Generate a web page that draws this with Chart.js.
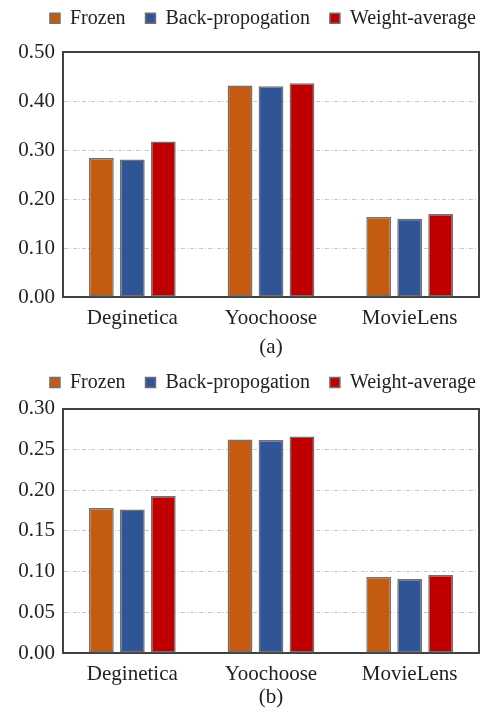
<!DOCTYPE html>
<html><head><meta charset="utf-8">
<script src="https://cdn.jsdelivr.net/npm/chart.js@4.4.0/dist/chart.umd.min.js"></script>
<style>
html,body{margin:0;padding:0;background:#fff;overflow:hidden;width:490px;height:712px}
.w{position:absolute;left:0;width:490px}
</style></head><body>
<div class="w" style="top:0;height:372px"><canvas id="ca"></canvas></div>
<div class="w" style="top:356px;height:356px"><canvas id="cb"></canvas></div>
<script>
const categories = ['Deginetica', 'Yoochoose', 'MovieLens'];
const seriesNames = ['Frozen', 'Back-propogation', 'Weight-average'];
const frozenA = [0.284, 0.432, 0.1635];
const backpropA = [0.281, 0.4305, 0.160];
const weightAvgA = [0.3175, 0.437, 0.1696];
const frozenB = [0.178, 0.262, 0.0932];
const backpropB = [0.176, 0.2615, 0.0907];
const weightAvgB = [0.1925, 0.2657, 0.0956];
const yTicksA = [0.00, 0.10, 0.20, 0.30, 0.40, 0.50];
const yTicksB = [0.00, 0.05, 0.10, 0.15, 0.20, 0.25, 0.30];
const panelLabels = ['(a)', '(b)'];

const FONT = "'Liberation Serif','Times New Roman',serif";
const COLORS = ['#C55A11', '#2F5597', '#C00000'];
const BORDER = '#404040';

function makeChart(id, series, ticks, panel, L) {
  const step = ticks[1] - ticks[0];
  return new Chart(document.getElementById(id), {
    type: 'bar',
    data: {
      labels: categories,
      datasets: series.map((vals, i) => ({
        label: seriesNames[i],
        data: vals,
        backgroundColor: COLORS[i],
        borderColor: '#707070',
        borderWidth: 1.5,
        borderSkipped: false,
        categoryPercentage: 0.67,
        barPercentage: 0.8
      }))
    },
    options: {
      responsive: true,
      maintainAspectRatio: false,
      animation: false,
      layout: { padding: { top: L.top, left: 0, right: -6, bottom: 0 } },
      plugins: {
        tooltip: { enabled: false },
        legend: {
          position: 'top',
          align: 'end',
          labels: {
            boxWidth: 10, boxHeight: 10, padding: 20,
            color: '#222',
            font: { family: FONT, size: 20 }
          }
        }
      },
      scales: {
        x: {
          position: 'bottom',
          grid: { display: false },
          border: { display: true, color: BORDER, width: 2 },
          ticks: { color: '#222', padding: 1, font: { family: FONT, size: 21 } },
          title: { display: true, text: panel, color: '#222',
                   font: { family: FONT, size: 21 }, padding: { top: 0, bottom: L.titleBottom } },
          afterFit: s => { s.height = L.xHeight; }
        },
        xTop: {
          type: 'category',
          position: 'top',
          grid: { display: false },
          ticks: { display: false },
          border: { display: true, color: BORDER, width: 2 },
          afterFit: s => { s.height = L.topGap; }
        },
        y: {
          position: 'left',
          min: ticks[0],
          max: ticks[ticks.length - 1],
          ticks: {
            stepSize: step,
            color: '#222',
            padding: 8,
            font: { family: FONT, size: 21 },
            callback: v => Number(v).toFixed(2)
          },
          grid: { color: '#c8c8c8', lineWidth: 1, drawTicks: false },
          border: { display: true, color: BORDER, width: 2, dash: [4, 2, 1, 2] },
          afterFit: s => { s.width = 63; }
        },
        yR: {
          type: 'linear',
          position: 'right',
          grid: { display: false },
          ticks: { display: false },
          border: { display: true, color: BORDER, width: 2 },
          afterFit: s => { s.width = 17; }
        }
      }
    }
  });
}

makeChart('ca', [frozenA, backpropA, weightAvgA], yTicksA, panelLabels[0],
  { top: -11.7, topGap: 14, xHeight: 75, titleBottom: 12.4 });
makeChart('cb', [frozenB, backpropB, weightAvgB], yTicksB, panelLabels[1],
  { top: -3.5, topGap: 6, xHeight: 59, titleBottom: 1.9 });
</script>
</body></html>
